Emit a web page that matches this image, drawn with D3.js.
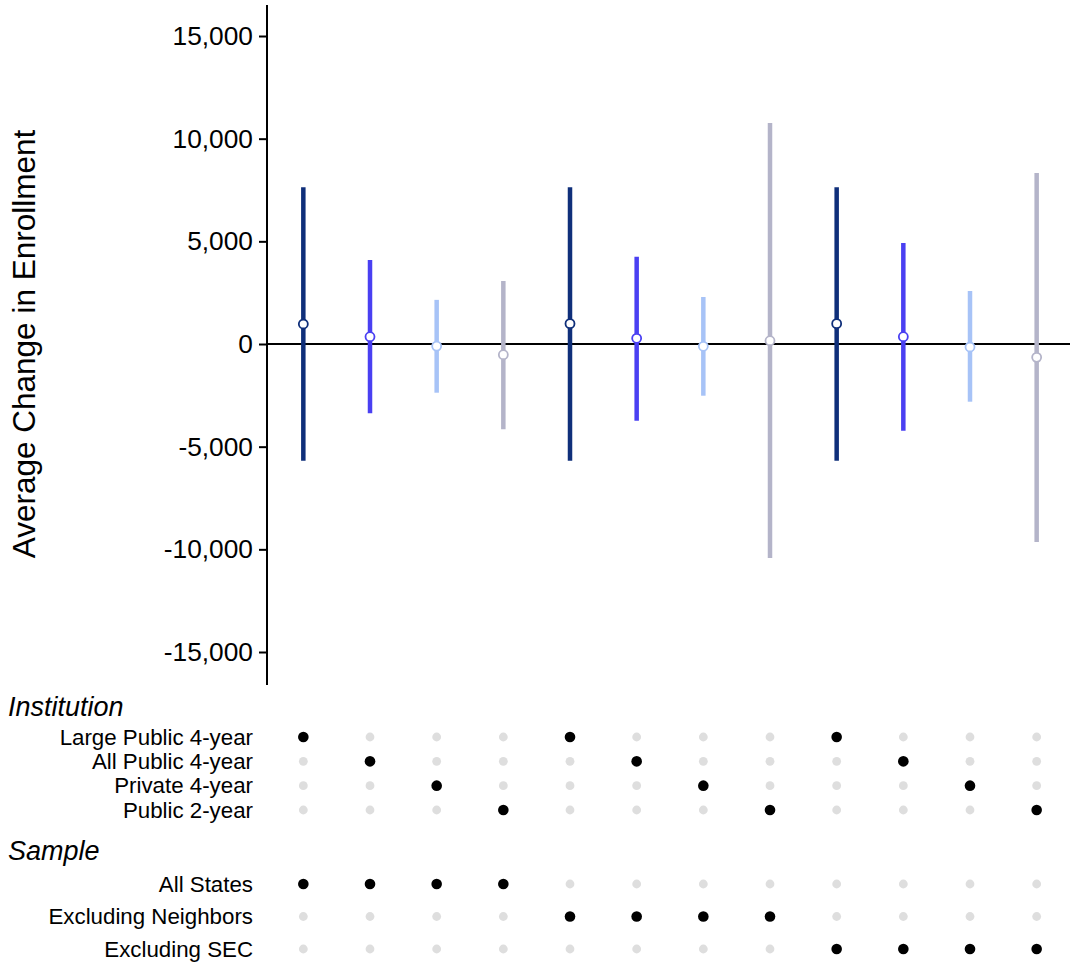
<!DOCTYPE html>
<html>
<head>
<meta charset="utf-8">
<script src="https://cdn.jsdelivr.net/npm/d3@7"></script>
<style>
  html, body { margin: 0; padding: 0; background: #fff; }
  svg { display: block; font-family: "Liberation Sans", Arial, sans-serif; }
</style>
</head>
<body>
<svg id="chart" width="1070" height="965"></svg>
<script>
// Specification groups
const institutions = ["Large Public 4-year", "All Public 4-year", "Private 4-year", "Public 2-year"];
const samples = ["All States", "Excluding Neighbors", "Excluding SEC"];

// One entry per estimate, left to right
const specInstitution = ["Large Public 4-year", "All Public 4-year", "Private 4-year", "Public 2-year",
                         "Large Public 4-year", "All Public 4-year", "Private 4-year", "Public 2-year",
                         "Large Public 4-year", "All Public 4-year", "Private 4-year", "Public 2-year"];
const specSample = ["All States", "All States", "All States", "All States",
                    "Excluding Neighbors", "Excluding Neighbors", "Excluding Neighbors", "Excluding Neighbors",
                    "Excluding SEC", "Excluding SEC", "Excluding SEC", "Excluding SEC"];
const estimate = [975, 356, -100, -521, 990, 278, -112, 161, 990, 356, -146, -648];
const lower = [-5680, -3375, -2372, -4154, -5680, -3735, -2518, -10422, -5680, -4222, -2810, -9643];
const upper = [7630, 4091, 2150, 3068, 7630, 4252, 2290, 10763, 7630, 4918, 2581, 8328];

const yTicks = [-15000, -10000, -5000, 0, 5000, 10000, 15000];
const instColors = ["#0f2f7a", "#4a40f2", "#a7c3f7", "#b4b4c9"];

const specs = estimate.map((d, i) => ({
  id: i, est: d, lo: lower[i], hi: upper[i],
  inst: specInstitution[i], sample: specSample[i]
}));

const svg = d3.select("#chart");

const x = d3.scaleBand().domain(specs.map(d => d.id)).range([270, 1070]);
const cx = d => x(d) + x.bandwidth() / 2;
const y = d3.scaleLinear().domain([-16607, 16510]).range([685, 5]);
const color = d3.scaleOrdinal().domain(institutions).range(instColors);

// Thousands separator with a plain hyphen for negatives
const fmt = v => d3.format(",")(v).replace("\u2212", "-");

// Y axis
const yAxis = svg.append("g")
  .attr("transform", "translate(267,0)")
  .call(d3.axisLeft(y).tickValues(yTicks).tickSize(8).tickPadding(6)
    .tickFormat(fmt));
yAxis.select(".domain").attr("stroke", "#000").attr("stroke-width", 2)
  .attr("d", `M0,${y.range()[0]}V${y.range()[1]}`);
yAxis.selectAll(".tick line").attr("stroke", "#000").attr("stroke-width", 2);
yAxis.selectAll(".tick text").attr("fill", "#000").attr("font-size", 26.3)
  .attr("font-family", "Liberation Sans, Arial, sans-serif");

svg.append("text")
  .attr("transform", `translate(35,${y(0)}) rotate(-90)`)
  .attr("text-anchor", "middle")
  .attr("font-size", 31.5)
  .attr("fill", "#000")
  .text("Average Change in Enrollment");

// Zero reference line
svg.append("line")
  .attr("x1", 267).attr("x2", 1070)
  .attr("y1", y(0)).attr("y2", y(0))
  .attr("stroke", "#000").attr("stroke-width", 1.8);

// Confidence intervals
svg.append("g").selectAll("line")
  .data(specs).join("line")
  .attr("x1", d => cx(d.id)).attr("x2", d => cx(d.id))
  .attr("y1", d => y(d.hi)).attr("y2", d => y(d.lo))
  .attr("stroke", d => color(d.inst))
  .attr("stroke-width", 4.5);

// Point estimates
svg.append("g").selectAll("circle")
  .data(specs).join("circle")
  .attr("cx", d => cx(d.id)).attr("cy", d => y(d.est))
  .attr("r", 4.5)
  .attr("fill", "#fff")
  .attr("stroke", d => color(d.inst))
  .attr("stroke-width", 1.8);

// Specification indicator panels
function panel(title, titleY, levels, rowRange, key) {
  svg.append("text")
    .attr("x", 8).attr("y", titleY)
    .attr("font-size", 27).attr("font-style", "italic")
    .attr("fill", "#000")
    .text(title);
  const ry = d3.scalePoint().domain(levels).range(rowRange);
  svg.append("g").selectAll("text")
    .data(levels).join("text")
    .attr("x", 253).attr("y", d => ry(d))
    .attr("dy", "0.35em")
    .attr("text-anchor", "end")
    .attr("font-size", 22.3)
    .attr("fill", "#000")
    .text(d => d);
  const cells = [];
  specs.forEach(s => levels.forEach(l => cells.push({ id: s.id, level: l, on: s[key] === l })));
  svg.append("g").selectAll("circle")
    .data(cells).join("circle")
    .attr("cx", d => cx(d.id)).attr("cy", d => ry(d.level))
    .attr("r", d => d.on ? 5.3 : 4.4)
    .attr("fill", d => d.on ? "#000" : "#dedede");
}

panel("Institution", 716, institutions, [737, 810], "inst");
panel("Sample", 860, samples, [884, 949], "sample");
</script>
</body>
</html>
